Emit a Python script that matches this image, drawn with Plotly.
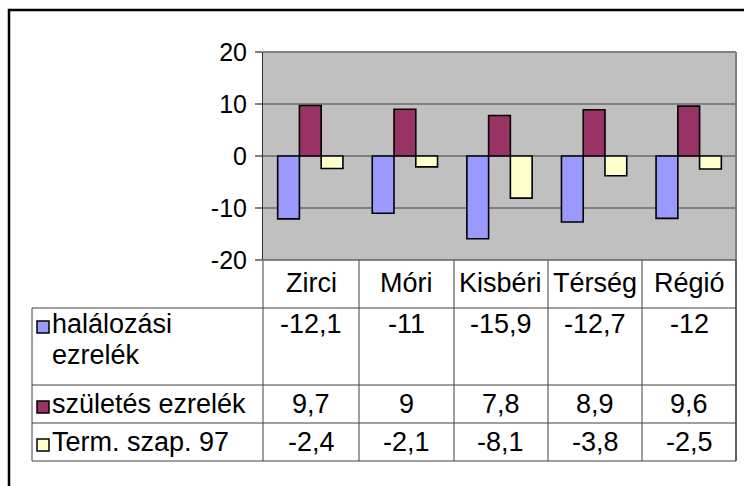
import plotly.graph_objects as go

categories = ["Zirci", "Móri", "Kisbéri", "Térség", "Régió"]
series_names = ["halálozási ezrelék", "születés ezrelék", "Term. szap. 97"]
halalozasi = [-12.1, -11, -15.9, -12.7, -12]
szuletes = [9.7, 9, 7.8, 8.9, 9.6]
term_szap = [-2.4, -2.1, -8.1, -3.8, -2.5]
y_ticks = [-20, -10, 0, 10, 20]

series_values = [halalozasi, szuletes, term_szap]
colors = ["#9999FF", "#993366", "#FFFFCC"]

W, H = 744, 486
FONT = "Liberation Sans, Arial, sans-serif"
FS_AX = 25
FS_TB = 27


def X(px):
    return px / W


def Y(py):
    return 1 - py / H


# layout geometry (pixels)
PL, PR, PT, PB = 263, 736, 52, 260
TL = 32
col_edges = [263, 359, 454, 548, 642, 736]
row_edges = [308, 385, 423, 461]
header_c = 283
row_text_c = [324, 404, 442]
line_gap = 31

fig = go.Figure()
for name, vals, col in zip(series_names, series_values, colors):
    fig.add_trace(go.Bar(
        x=categories, y=vals, name=name,
        marker=dict(color=col, line=dict(color="black", width=1.6)),
    ))

shapes = []
line_col = "#404040"
# outer frame
shapes.append(dict(type="rect", xref="paper", yref="paper",
                   x0=X(9), x1=X(780), y0=Y(10), y1=Y(520),
                   line=dict(color="black", width=2.5)))
# plot area top and right border
shapes.append(dict(type="line", xref="paper", yref="paper",
                   x0=X(PL), x1=X(PR), y0=Y(PT), y1=Y(PT),
                   line=dict(color="#808080", width=2)))
shapes.append(dict(type="line", xref="paper", yref="paper",
                   x0=X(PR), x1=X(PR), y0=Y(PT), y1=Y(row_edges[-1]),
                   line=dict(color="#808080", width=2)))
# header row verticals
for cx in col_edges:
    shapes.append(dict(type="line", xref="paper", yref="paper",
                       x0=X(cx), x1=X(cx), y0=Y(PB), y1=Y(row_edges[-1]),
                       line=dict(color=line_col, width=1)))
# plot bottom line
shapes.append(dict(type="line", xref="paper", yref="paper",
                   x0=X(PL), x1=X(PR), y0=Y(PB), y1=Y(PB),
                   line=dict(color="#606060", width=1.5)))
# table horizontal lines
for ry in row_edges:
    shapes.append(dict(type="line", xref="paper", yref="paper",
                       x0=X(TL), x1=X(PR), y0=Y(ry), y1=Y(ry),
                       line=dict(color=line_col, width=1)))
# table left border
shapes.append(dict(type="line", xref="paper", yref="paper",
                   x0=X(TL), x1=X(TL), y0=Y(row_edges[0]), y1=Y(row_edges[-1]),
                   line=dict(color=line_col, width=1)))

annotations = []
# header categories
for i, c in enumerate(categories):
    cx = (col_edges[i] + col_edges[i + 1]) / 2
    annotations.append(dict(x=X(cx), y=Y(header_c), xref="paper", yref="paper",
                            text=c, showarrow=False, xanchor="center", yanchor="middle",
                            font=dict(family=FONT, size=FS_TB, color="black")))


def fmt(v):
    return f"{v:g}".replace(".", ",")


def wrap(name):
    if len(name) > 16:
        return name.split(" ", 1)
    return [name]


for r, (name, vals, col) in enumerate(zip(series_names, series_values, colors)):
    ty = row_text_c[r]
    for k, line in enumerate(wrap(name)):
        annotations.append(dict(x=X(50), y=Y(ty + k * line_gap), xref="paper", yref="paper",
                                text=line, showarrow=False, xanchor="left", yanchor="middle",
                                align="left",
                                font=dict(family=FONT, size=FS_TB, color="black")))
    ky = ty + 3
    shapes.append(dict(type="rect", xref="paper", yref="paper",
                       x0=X(37), x1=X(49), y0=Y(ky - 6), y1=Y(ky + 6),
                       fillcolor=col, line=dict(color="black", width=1.5)))
    for i, v in enumerate(vals):
        cx = (col_edges[i] + col_edges[i + 1]) / 2
        annotations.append(dict(x=X(cx), y=Y(ty), xref="paper", yref="paper",
                                text=fmt(v), showarrow=False, xanchor="center", yanchor="middle",
                                font=dict(family=FONT, size=FS_TB, color="black")))

fig.update_layout(
    width=W, height=H,
    margin=dict(l=0, r=0, t=0, b=0, pad=0, autoexpand=False),
    paper_bgcolor="white",
    plot_bgcolor="#C0C0C0",
    showlegend=False,
    barmode="group",
    bargap=0.31,
    bargroupgap=0,
    font=dict(family=FONT, size=FS_AX, color="black"),
    xaxis=dict(domain=[X(PL), X(PR)], showticklabels=False, showgrid=False,
               zeroline=False, showline=False, ticks="", automargin=False),
    yaxis=dict(domain=[Y(PB), Y(PT)], range=[-20, 20], tickvals=y_ticks,
               ticktext=[str(t) for t in y_ticks], automargin=False,
               showgrid=True, gridcolor="#808080", gridwidth=1.5,
               zeroline=True, zerolinecolor="#808080", zerolinewidth=1.5,
               showline=True, linecolor="#303030", linewidth=1,
               ticks="outside", ticklen=7, tickcolor="#808080", tickwidth=1.5,
               ticklabelstandoff=3,
               tickfont=dict(family=FONT, size=FS_AX, color="black")),
    shapes=shapes,
    annotations=annotations,
)

fig.write_html("out.html", config={"displayModeBar": False},
               post_script="document.body.style.margin='0';document.body.style.overflow='hidden';")
